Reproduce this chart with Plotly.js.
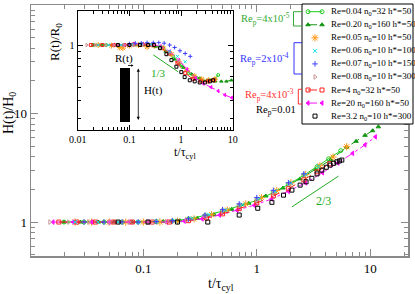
<!DOCTYPE html>
<html><head><meta charset="utf-8">
<script src="https://cdn.plot.ly/plotly-3.0.1.min.js"></script>
<style>html,body{margin:0;padding:0;background:#fff}#chart{width:415px;height:294px}</style>
</head><body><div id="chart"></div>
<script>
// ================= DATA =================
const seriesLabels = [
  "Re=0.04 n<sub>0</sub>=32 h*=50",
  "Re=0.20 n<sub>0</sub>=160 h*=50",
  "Re=0.05 n<sub>0</sub>=10 h*=50",
  "Re=0.06 n<sub>0</sub>=10 h*=100",
  "Re=0.07 n<sub>0</sub>=10 h*=150",
  "Re=0.08 n<sub>0</sub>=10 h*=300",
  "Re=4 n<sub>0</sub>=32 h*=50",
  "Re=20 n<sub>0</sub>=160 h*=50",
  "Re=3.2 n<sub>0</sub>=10 h*=300"
];
const groupLabels = ["Re<sub>p</sub>=4x10<sup>-5</sup>","Re<sub>p</sub>=2x10<sup>-4</sup>","Re<sub>p</sub>=4x10<sup>-3</sup>","Re<sub>p</sub>=0.01"];

// main plot: H(t)/H0 vs t/tau_cyl
const tLG = [0.02,0.03,0.045,0.065,0.09,0.13,0.18,0.25,0.35,0.5,0.7,1.0,1.4,1.9,2.6,3.4,4.3,5.5];
const hLG = [1,1,1,1,1,1.01,1.02,1.07,1.15,1.26,1.41,1.58,1.87,2.22,2.7,3.24,3.83,4.55];
const tDG = [0.02,0.028,0.04,0.055,0.08,0.11,0.15,0.21,0.3,0.42,0.6,0.85,1.2,1.7,2.4,3.3,4.5,6.2,7.5,9,10.5,11.8];
const hDG = [1,1,1,1,1,1,1.01,1.03,1.08,1.17,1.31,1.49,1.74,2.06,2.5,3.05,3.75,4.9,5.55,6.3,6.95,7.55];
const tOR = [0.025,0.035,0.05,0.07,0.1,0.14,0.2,0.28,0.4,0.55,0.8,1.1,1.5,2,2.7,3.6,4.7,6.2];
const hOR = [1,1,1,1,1,1,1.02,1.07,1.17,1.29,1.47,1.68,1.95,2.3,2.75,3.3,3.98,4.95];
const tCY = [0.025,0.04,0.06,0.09,0.13,0.19,0.27,0.38,0.53,0.75,1.05,1.45,2.0,2.7,3.5];
const hCY = [1,1,1,1,1.01,1.03,1.08,1.17,1.29,1.45,1.65,1.93,2.3,2.75,3.25];
const tBL = [0.03,0.045,0.065,0.09,0.13,0.18,0.25,0.35,0.5,0.7,1.0,1.4,1.9,2.6];
const hBL = [1,1,1,1,1.01,1.03,1.07,1.16,1.3,1.47,1.68,1.96,2.3,2.78];
const tRB = [0.015,0.022,0.033,0.05,0.075,0.11,0.16,0.24,0.35,0.5,0.7,1.0,1.4,2.0];
const hRB = [1,1,1,1,1,1,1.01,1.05,1.14,1.27,1.42,1.6,1.87,2.26];
const tRD = [0.018,0.026,0.038,0.055,0.08,0.12,0.17,0.25,0.36,0.5,0.7,1.0,1.4,1.9,2.6,3.4,4.4];
const hRD = [1,1,1,1,1,1,1,1.03,1.09,1.19,1.33,1.5,1.74,2.03,2.45,2.9,3.45];
const tMG = [0.016,0.024,0.035,0.05,0.075,0.11,0.16,0.23,0.33,0.47,0.67,0.95,1.35,1.9,2.7,3.8,5.2,7,9,11.1];
const hMG = [1,1,1,1,1,1,1,1.02,1.07,1.16,1.28,1.43,1.63,1.92,2.3,2.85,3.5,4.3,5.15,6.1];
const tBK = [0.06,0.11,0.2,0.37,0.7,1.02,1.36,1.72,2.04,2.41,2.72,3.06,3.4,3.75,4.1,4.43,4.75,5.08,5.35,5.62];
const hBK = [1,1,1,1,1.16,1.34,1.52,1.77,1.97,2.19,2.35,2.53,2.78,3.01,3.2,3.35,3.48,3.59,3.66,3.73];
const slope23T = [2.04, 5.25];
const slope23H = [1.38, 2.65];

// inset: R(t)/R0 vs t/tau_cyl
const itLG = [0.02,0.035,0.06,0.1,0.17,0.28,0.45,0.7,1.0,1.4,1.9,2.6,3.5,4.5,5.2];
const irLG = [1,1,1,1,1.01,1.0,0.95,0.83,0.72,0.63,0.58,0.56,0.56,0.57,0.61];
const itDG = [0.02,0.03,0.05,0.08,0.13,0.2,0.32,0.5,0.75,1.1,1.6,2.3,3.2,4.5,6,7.5,9.4];
const irDG = [1,1,1,1,1,1.0,0.97,0.9,0.79,0.69,0.62,0.58,0.56,0.55,0.55,0.55,0.56];
const itOR = [0.025,0.045,0.065,0.075,0.1,0.15,0.22,0.3,0.45,0.65,0.9,1.3,1.8,2.5,3.4,4.5];
const irOR = [1,0.99,0.96,0.95,0.99,1.0,0.97,0.99,0.95,0.86,0.76,0.66,0.6,0.57,0.56,0.57];
const itCY = [0.025,0.04,0.07,0.11,0.17,0.26,0.4,0.6,0.85,1.2];
const irCY = [1,1,1,1.01,1.02,1.01,0.97,0.9,0.83,0.76];
const itBL = [0.1,0.13,0.17,0.22,0.29,0.37,0.47,0.6,0.75,0.95,1.2,1.5];
const irBL = [1.02,1.03,1.03,1.04,1.04,1.04,1.03,1.0,0.96,0.91,0.87,0.83];
const itRB = [0.015,0.022,0.035,0.05,0.08,0.12,0.18,0.27,0.4,0.6,0.9];
const irRB = [1,1,1,1,1,1.0,1.01,1.0,0.96,0.88,0.77];
const itRD = [0.018,0.03,0.05,0.08,0.12,0.18,0.27,0.4,0.58,0.85,1.2,1.7,2.4,3.3,4.3];
const irRD = [1,1,1,1,1.01,1.01,1.0,0.96,0.87,0.74,0.63,0.57,0.55,0.55,0.56];
const itMG = [0.05,0.08,0.12,0.18,0.27,0.4,0.6,0.9,1.3,1.9,2.7,3.8,5.2,7,9.5];
const irMG = [1,1,1.02,1.02,1.01,0.98,0.9,0.78,0.67,0.58,0.53,0.5,0.47,0.44,0.42];
const itBK = [0.06,0.1,0.16,0.23,0.3,0.39,0.52,0.65,0.81,1.01,1.17,1.47,1.83,2.29,2.88,3.6,4.14];
const irBK = [1,1,1,1,1,0.95,0.86,0.78,0.7,0.64,0.59,0.56,0.55,0.54,0.54,0.55,0.56];
const slope13T = [0.29, 0.87];
const slope13R = [0.85, 0.645];

// ================= STYLE =================
const styles = [
  {color:'#22cc22', symbol:'circle-open', dash:'solid', line:true, size:5},
  {color:'#139613', symbol:'triangle-up', dash:'dash', line:true, size:5},
  {color:'#ff9a1a', symbol:'asterisk-open', line:false, size:7},
  {color:'#10e0e0', symbol:'x-thin-open', line:false, size:5},
  {color:'#4040ff', symbol:'cross-thin-open', line:false, size:5},
  {color:'#c89595', symbol:'triangle-right-open', line:false, size:5},
  {color:'#ff2020', symbol:'square-open', dash:'dash', line:true, size:5},
  {color:'#ff10ff', symbol:'triangle-left', dash:'dashdot', line:true, size:5},
  {color:'#000000', symbol:'square-open', line:false, size:5}
];
const mainT = [tLG,tDG,tOR,tCY,tBL,tRB,tRD,tMG,tBK];
const mainH = [hLG,hDG,hOR,hCY,hBL,hRB,hRD,hMG,hBK];
const insT = [itLG,itDG,itOR,itCY,itBL,itRB,itRD,itMG,itBK];
const insR = [irLG,irDG,irOR,irCY,irBL,irRB,irRD,irMG,irBK];
const drawOrder = [1,0,2,7,6,5,3,4,8];

const FONT = 'Liberation Serif, Times New Roman, serif';
const W = 383, PH = 254; // plot area px (l=31, t=2)
const px = x => (x - 31) / W;
const py = y => (256 - y) / PH;

function mk(s, x, y, xa, ya, msize) {
  return {
    x: x, y: y, xaxis: xa, yaxis: ya, type: 'scatter',
    mode: s.line ? 'lines+markers' : 'markers',
    line: {color: s.color, width: 1, dash: s.dash || 'solid'},
    marker: {symbol: s.symbol, size: msize || s.size, color: s.color,
             line: {color: s.color, width: 1}},
    showlegend: false, hoverinfo: 'skip', cliponaxis: false
  };
}

const traces = [];
drawOrder.forEach(i => traces.push(mk(styles[i], mainT[i], mainH[i], 'x', 'y', styles[i].size - 1)));
traces.push({x: slope23T, y: slope23H, xaxis:'x', yaxis:'y', mode:'lines',
  line:{color:'#22aa22', width:1}, showlegend:false, hoverinfo:'skip'});
drawOrder.forEach(i => traces.push(mk(styles[i], insT[i], insR[i], 'x2', 'y2', Math.max(3, styles[i].size - 2))));
traces.push({x: slope13T, y: slope13R, xaxis:'x2', yaxis:'y2', mode:'lines',
  line:{color:'#22aa22', width:1}, showlegend:false, hoverinfo:'skip'});

// custom legend (x3/y3 in pixel units)
const legL = 302, legR = 413, legT = 4, legB = 124, legRow0 = 11.7, legStep = 13.05;
traces.push({x:[legL,legR,legR,legL,legL], y:[legT,legT,legB,legB,legT], xaxis:'x3', yaxis:'y3',
  mode:'lines', fill:'toself', fillcolor:'#ffffff', line:{color:'#000', width:1},
  showlegend:false, hoverinfo:'skip'});
styles.forEach((s, i) => {
  const yy = legRow0 + i * legStep;
  traces.push(mk(s, s.line ? [308, 322] : [315], s.line ? [yy, yy] : [yy], 'x3', 'y3', s.size - 1));
});

const minorMainX = [0.02,0.03,0.04,0.05,0.06,0.07,0.08,0.09,0.2,0.3,0.4,0.5,0.6,0.7,0.8,0.9,2,3,4,5,6,7,8,9,20];
const minorMainY = [0.5,0.6,0.7,0.8,0.9,2,3,4,5,6,7,8,9,20,30,40,50,60,70,80,90];
const minorInsX = [0.02,0.03,0.04,0.05,0.06,0.07,0.08,0.09,0.2,0.3,0.4,0.5,0.6,0.7,0.8,0.9,2,3,4,5,6,7,8,9];
const minorInsY = [0.3,0.4,0.5,0.6,0.7,0.8,0.9];

const grey = '#8a8a8a';
function axisBase(color, lw, tl, ml, fs) {
  return {showline:true, linecolor:color, linewidth:lw, mirror:'allticks', ticks:'inside',
    ticklen:tl, tickwidth:1, tickcolor:color, showgrid:false, zeroline:false,
    tickfont:{family:FONT, size:fs, color:'#000'},
    minor:{ticks:'inside', ticklen:ml, tickwidth:1, tickcolor:color, showgrid:false}};
}
const xa = Object.assign(axisBase(grey, 1.5, 7, 4, 13), {type:'log', domain:[0, 377/W], range:[-1.99, 1.333], anchor:'y',
  tickmode:'array', tickvals:[0.1,1,10], ticktext:['0.1','1','10']});
xa.minor.tickvals = minorMainX;
const ya = Object.assign(axisBase(grey, 1.5, 7, 4, 13), {type:'log', domain:[0, 251/PH], range:[-0.313, 2.001], anchor:'x',
  tickmode:'array', tickvals:[1,10,100], ticktext:['1','10','100']});
ya.minor.tickvals = minorMainY;
const xa2 = Object.assign(axisBase('#000', 1, 5, 3, 10), {type:'log', domain:[px(77.5), px(233)], range:[-2.003, 1.003], anchor:'y2',
  tickmode:'array', tickvals:[0.01,0.1,1,10], ticktext:['0.01','0.1','1','10']});
xa2.minor.tickvals = minorInsX;
const ya2 = Object.assign(axisBase('#000', 1, 5, 3, 10), {type:'log', domain:[py(130), py(11)], range:[-0.607, 0.243], anchor:'x2',
  tickmode:'array', tickvals:[1], ticktext:['1']});
ya2.minor.tickvals = minorInsY;

const ann = [];
function txt(text, x, y, size, color, opts) {
  ann.push(Object.assign({text:text, x:px(x), y:py(y), xref:'paper', yref:'paper', showarrow:false,
    font:{family:FONT, size:size, color:color || '#000'}, xanchor:'center', yanchor:'middle'}, opts || {}));
}
txt('t/τ<sub>cyl</sub>', 221, 284, 14);
txt('H(t)/H<sub>0</sub>', 9, 113, 14, '#000', {textangle:-90});
txt('R(t)/R<sub>0</sub>', 55, 42, 13, '#000', {textangle:-90});
txt('t/τ<sub>cyl</sub>', 185, 153, 12);
txt('R(t)', 124, 58, 11);
txt('H(t)', 153, 90, 11);
txt('1/3', 158, 73, 11, '#22aa22');
txt('2/3', 323, 201, 12, '#22aa22');
seriesLabels.forEach((l, i) => txt(l, 329, legRow0 + i * legStep, 9, '#000', {xanchor:'left'}));
txt(groupLabels[0], 292, 18.5, 10.5, '#33aa33', {xanchor:'right'});
txt(groupLabels[1], 291, 59, 10.5, '#3333ff', {xanchor:'right'});
txt(groupLabels[2], 296, 94.5, 10.5, '#ff3333', {xanchor:'right'});
txt(groupLabels[3], 298, 110, 10.5, '#000', {xanchor:'right'});
// arrows in inset sketch
ann.push({x:px(138.3), y:py(68.5), xref:'paper', yref:'paper', ax:0, ay:53, text:'', showarrow:true,
  arrowhead:2, arrowsize:0.8, arrowwidth:0.8, arrowcolor:'#000', arrowside:'end+start', standoff:0, startstandoff:0});
ann.push({x:px(133.5), y:py(65.5), xref:'paper', yref:'paper', ax:-7, ay:0, text:'', showarrow:true,
  arrowhead:2, arrowsize:0.6, arrowwidth:0.8, arrowcolor:'#000', standoff:0});

function bracket(xv, y0, y1, color) {
  return {type:'path', xref:'paper', yref:'paper', layer:'above',
    path:`M ${px(302)},${py(y0)} L ${px(xv)},${py(y0)} L ${px(xv)},${py(y1)} L ${px(302)},${py(y1)}`,
    line:{color:color, width:1}};
}
const shapes = [
  {type:'rect', xref:'paper', yref:'paper', x0:px(120), x1:px(130), y0:py(122), y1:py(68),
   fillcolor:'#000', line:{width:0}, layer:'above'},
  bracket(293.5, 11.7, 26, '#33aa33'),
  bracket(294, 42.7, 74, '#3333ff'),
  bracket(298.3, 89.3, 104, '#ff3333')
];

const layout = {
  width:415, height:294, margin:{l:31, r:1, t:2, b:38, pad:0},
  paper_bgcolor:'#fff', plot_bgcolor:'rgba(0,0,0,0)', showlegend:false,
  font:{family:FONT, size:12, color:'#000'},
  xaxis:xa, yaxis:ya, xaxis2:xa2, yaxis2:ya2,
  xaxis3:{domain:[0,1], range:[31,414], visible:false, anchor:'y3', fixedrange:true},
  yaxis3:{domain:[0,1], range:[256,2], visible:false, anchor:'x3', fixedrange:true},
  annotations:ann, shapes:shapes
};
Plotly.newPlot('chart', traces, layout, {staticPlot:true, displayModeBar:false});
</script></body></html>
